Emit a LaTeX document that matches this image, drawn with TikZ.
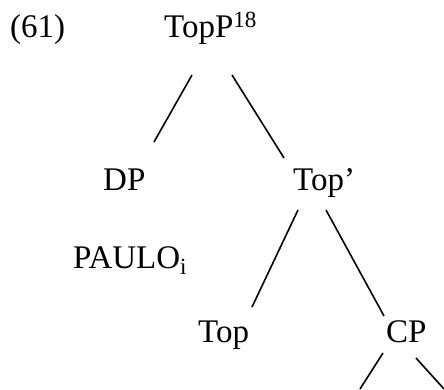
\documentclass[tikz,border=0pt]{standalone}
\usepackage{fontspec}
\setmainfont{Liberation Serif}
\begin{document}
\begin{tikzpicture}[
	x=1pt, y=-1pt,
	cat/.style={ anchor=base west, inner sep=0pt, font=\fontsize{33}{39}\selectfont },
	branch/.style={ line width=1.6pt }
]
\useasboundingbox (0,0) rectangle (444,389);
\clip (0,0) rectangle (444,389);

\node at (10,37) (num) [cat] {(61)};
\node at (164,37) (topp) [cat] {TopP\textsuperscript{18}};

\node at (103,190) (dp) [cat] {DP};
\node at (293,190) (topbar) [cat] {Top’};
\node at (73,268) (paulo) [cat] {PAULO\textsubscript{i}};

\node at (198,342) (top) [cat] {Top};
\node at (386,342) (cp) [cat] {CP};

\coordinate (cpleft) at (360,389);
\coordinate (cpright) at (444,389);

\draw[branch] ([shift={(28,38)}]topp.base west) -- ([shift={(51,-48)}]dp.base west);
\draw[branch] ([shift={(68,38)}]topp.base west) -- ([shift={(-9,-32)}]topbar.base west);
\draw[branch] ([shift={(5,20)}]topbar.base west) -- ([shift={(54,-35)}]top.base west);
\draw[branch] ([shift={(33,20)}]topbar.base west) -- ([shift={(-2,-26)}]cp.base west);
\draw[branch] ([shift={(-3,11)}]cp.base west) -- (cpleft);
\draw[branch] ([shift={(30,16)}]cp.base west) -- (cpright);

\end{tikzpicture}
\end{document}
